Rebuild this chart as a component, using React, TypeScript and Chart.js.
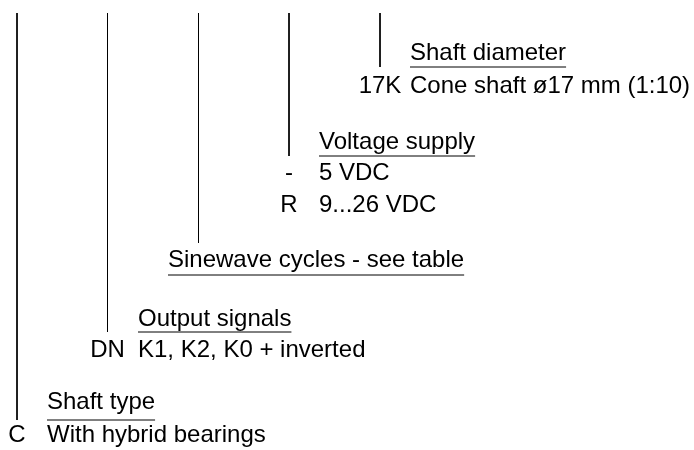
import { useEffect, useRef } from "react";
import { Chart, registerables } from "chart.js";

Chart.register(...registerables);

// Ordering-code key: one vertical leader per code group
const groupNames = ["Shaft type", "Output signals", "Sinewave cycles - see table", "Voltage supply", "Shaft diameter"];
const groupLineX = [17, 107.5, 198.5, 289, 380];
const groupLineTop = [13, 13, 13, 13, 13];
const groupLineBottom = [420, 332, 243, 156, 67];
const groupUnderlineY = [420, 332, 275, 156, 67];
const groupNameX = [47, 138, 168, 319, 410];
const groupNameY = [409, 326, 267, 149, 60];

// Options listed under each group
const optionCodes = ["C", "DN", "-", "R", "17K"];
const optionTexts = ["With hybrid bearings", "K1, K2, K0 + inverted", "5 VDC", "9...26 VDC", "Cone shaft ø17 mm (1:10)"];
const optionGroup = [0, 1, 3, 3, 4];
const optionY = [442, 357, 180, 212, 93];

const FONT = '24px "Liberation Sans", Arial, Helvetica, sans-serif';

const labelPlugin = {
  id: "codeLabels",
  afterDatasetsDraw(chart: any) {
    const { ctx, scales } = chart;
    const xs = scales.x;
    const ys = scales.y;
    ctx.save();
    ctx.font = FONT;
    ctx.fillStyle = "#000";
    ctx.strokeStyle = "#000";
    ctx.lineWidth = 1;
    ctx.textBaseline = "alphabetic";
    groupNames.forEach((name, i) => {
      const px = xs.getPixelForValue(groupNameX[i]);
      const py = ys.getPixelForValue(groupNameY[i]);
      ctx.textAlign = "left";
      ctx.fillText(name, px, py);
      const w = ctx.measureText(name).width;
      const uy = ys.getPixelForValue(groupUnderlineY[i]);
      ctx.beginPath();
      ctx.moveTo(px, uy);
      ctx.lineTo(px + w, uy);
      ctx.stroke();
    });
    optionCodes.forEach((code, i) => {
      const g = optionGroup[i];
      const py = ys.getPixelForValue(optionY[i]);
      ctx.textAlign = "center";
      ctx.fillText(code, xs.getPixelForValue(groupLineX[g]), py);
      ctx.textAlign = "left";
      ctx.fillText(optionTexts[i], xs.getPixelForValue(groupNameX[g]), py);
    });
    ctx.restore();
  },
};

export default function App() {
  const ref = useRef<HTMLCanvasElement | null>(null);
  useEffect(() => {
    document.body.style.margin = "0";
    document.body.style.background = "#fff";
    if (!ref.current) return;
    const chart = new Chart(ref.current, {
      type: "scatter",
      data: {
        datasets: groupLineX.map((gx, i) => ({
          label: groupNames[i],
          data: [
            { x: gx, y: groupLineTop[i] },
            { x: gx, y: groupLineBottom[i] },
          ],
          showLine: true,
          borderColor: "#000",
          borderWidth: 1,
          pointRadius: 0,
          pointHoverRadius: 0,
        })),
      },
      options: {
        animation: false,
        responsive: false,
        devicePixelRatio: 1,
        layout: { padding: 0 },
        plugins: { legend: { display: false }, tooltip: { enabled: false }, title: { display: false } },
        scales: {
          x: { type: "linear", min: 0, max: 694, display: false },
          y: { type: "linear", min: 0, max: 450, reverse: true, display: false },
        },
      },
      plugins: [labelPlugin],
    });
    return () => chart.destroy();
  }, []);
  return <canvas ref={ref} width={694} height={450} style={{ display: "block" }} />;
}
